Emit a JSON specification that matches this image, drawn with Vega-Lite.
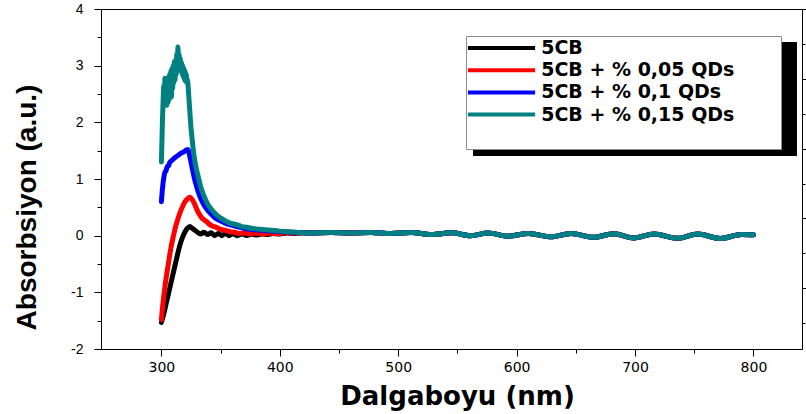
{
"$schema": "https://vega.github.io/schema/vega-lite/v6.json",
"width": 701,
"height": 340,
"autosize": {"type": "none"},
"padding": {"left": 101, "top": 9, "right": 4, "bottom": 65},
"background": "white",
"config": {
  "view": {"stroke": "#000", "strokeWidth": 1},
  "axis": {"domainColor": "#000", "tickColor": "#000", "labelColor": "#000", "titleColor": "#000", "grid": false, "tickWidth": 1, "domainWidth": 1}
},
"datasets": {
"main": [
{"wavelength":300,"absorbance":-1.53,"sample":"5CB"},
{"wavelength":302,"absorbance":-1.38,"sample":"5CB"},
{"wavelength":304,"absorbance":-1.2,"sample":"5CB"},
{"wavelength":306,"absorbance":-1.02,"sample":"5CB"},
{"wavelength":308,"absorbance":-0.84,"sample":"5CB"},
{"wavelength":310,"absorbance":-0.66,"sample":"5CB"},
{"wavelength":312,"absorbance":-0.48,"sample":"5CB"},
{"wavelength":314,"absorbance":-0.3,"sample":"5CB"},
{"wavelength":316,"absorbance":-0.14,"sample":"5CB"},
{"wavelength":318,"absorbance":-0.02,"sample":"5CB"},
{"wavelength":320,"absorbance":0.07,"sample":"5CB"},
{"wavelength":322,"absorbance":0.13,"sample":"5CB"},
{"wavelength":324,"absorbance":0.16,"sample":"5CB"},
{"wavelength":326,"absorbance":0.13,"sample":"5CB"},
{"wavelength":328,"absorbance":0.1,"sample":"5CB"},
{"wavelength":330,"absorbance":0.07,"sample":"5CB"},
{"wavelength":333,"absorbance":0.03,"sample":"5CB"},
{"wavelength":336,"absorbance":0.06,"sample":"5CB"},
{"wavelength":339,"absorbance":0.02,"sample":"5CB"},
{"wavelength":342,"absorbance":0.05,"sample":"5CB"},
{"wavelength":345,"absorbance":0.0,"sample":"5CB"},
{"wavelength":348,"absorbance":0.04,"sample":"5CB"},
{"wavelength":351,"absorbance":0.0,"sample":"5CB"},
{"wavelength":354,"absorbance":0.04,"sample":"5CB"},
{"wavelength":357,"absorbance":0.0,"sample":"5CB"},
{"wavelength":360,"absorbance":0.035,"sample":"5CB"},
{"wavelength":364,"absorbance":0.0,"sample":"5CB"},
{"wavelength":368,"absorbance":0.03,"sample":"5CB"},
{"wavelength":372,"absorbance":0.005,"sample":"5CB"},
{"wavelength":376,"absorbance":0.025,"sample":"5CB"},
{"wavelength":380,"absorbance":0.01,"sample":"5CB"},
{"wavelength":385,"absorbance":0.03,"sample":"5CB"},
{"wavelength":390,"absorbance":0.02,"sample":"5CB"},
{"wavelength":395,"absorbance":0.04,"sample":"5CB"},
{"wavelength":400,"absorbance":0.03,"sample":"5CB"},
{"wavelength":406,"absorbance":0.045,"sample":"5CB"},
{"wavelength":413,"absorbance":0.04,"sample":"5CB"},
{"wavelength":420,"absorbance":0.05,"sample":"5CB"},
{"wavelength":426,"absorbance":0.045,"sample":"5CB"},
{"wavelength":443,"absorbance":0.058,"sample":"5CB"},
{"wavelength":460,"absorbance":0.045,"sample":"5CB"},
{"wavelength":477,"absorbance":0.058,"sample":"5CB"},
{"wavelength":494,"absorbance":0.04,"sample":"5CB"},
{"wavelength":511,"absorbance":0.055,"sample":"5CB"},
{"wavelength":528,"absorbance":0.02,"sample":"5CB"},
{"wavelength":545,"absorbance":0.05,"sample":"5CB"},
{"wavelength":561,"absorbance":0.0,"sample":"5CB"},
{"wavelength":576,"absorbance":0.045,"sample":"5CB"},
{"wavelength":593,"absorbance":-0.01,"sample":"5CB"},
{"wavelength":610,"absorbance":0.04,"sample":"5CB"},
{"wavelength":629,"absorbance":-0.02,"sample":"5CB"},
{"wavelength":646,"absorbance":0.04,"sample":"5CB"},
{"wavelength":665,"absorbance":-0.03,"sample":"5CB"},
{"wavelength":682,"absorbance":0.035,"sample":"5CB"},
{"wavelength":699,"absorbance":-0.04,"sample":"5CB"},
{"wavelength":716,"absorbance":0.03,"sample":"5CB"},
{"wavelength":736,"absorbance":-0.045,"sample":"5CB"},
{"wavelength":753,"absorbance":0.03,"sample":"5CB"},
{"wavelength":772,"absorbance":-0.05,"sample":"5CB"},
{"wavelength":790,"absorbance":0.02,"sample":"5CB"},
{"wavelength":800,"absorbance":0.015,"sample":"5CB"},
{"wavelength":300,"absorbance":-1.48,"sample":"5CB + % 0,05 QDs"},
{"wavelength":301,"absorbance":-1.26,"sample":"5CB + % 0,05 QDs"},
{"wavelength":302,"absorbance":-1.07,"sample":"5CB + % 0,05 QDs"},
{"wavelength":303,"absorbance":-0.9,"sample":"5CB + % 0,05 QDs"},
{"wavelength":304,"absorbance":-0.75,"sample":"5CB + % 0,05 QDs"},
{"wavelength":306,"absorbance":-0.48,"sample":"5CB + % 0,05 QDs"},
{"wavelength":308,"absorbance":-0.22,"sample":"5CB + % 0,05 QDs"},
{"wavelength":310,"absorbance":-0.02,"sample":"5CB + % 0,05 QDs"},
{"wavelength":312,"absorbance":0.16,"sample":"5CB + % 0,05 QDs"},
{"wavelength":314,"absorbance":0.3,"sample":"5CB + % 0,05 QDs"},
{"wavelength":316,"absorbance":0.42,"sample":"5CB + % 0,05 QDs"},
{"wavelength":318,"absorbance":0.52,"sample":"5CB + % 0,05 QDs"},
{"wavelength":320,"absorbance":0.6,"sample":"5CB + % 0,05 QDs"},
{"wavelength":322,"absorbance":0.65,"sample":"5CB + % 0,05 QDs"},
{"wavelength":324,"absorbance":0.68,"sample":"5CB + % 0,05 QDs"},
{"wavelength":326,"absorbance":0.64,"sample":"5CB + % 0,05 QDs"},
{"wavelength":328,"absorbance":0.56,"sample":"5CB + % 0,05 QDs"},
{"wavelength":330,"absorbance":0.46,"sample":"5CB + % 0,05 QDs"},
{"wavelength":332,"absorbance":0.38,"sample":"5CB + % 0,05 QDs"},
{"wavelength":334,"absorbance":0.32,"sample":"5CB + % 0,05 QDs"},
{"wavelength":336,"absorbance":0.28,"sample":"5CB + % 0,05 QDs"},
{"wavelength":338,"absorbance":0.25,"sample":"5CB + % 0,05 QDs"},
{"wavelength":340,"absorbance":0.21,"sample":"5CB + % 0,05 QDs"},
{"wavelength":343,"absorbance":0.17,"sample":"5CB + % 0,05 QDs"},
{"wavelength":346,"absorbance":0.15,"sample":"5CB + % 0,05 QDs"},
{"wavelength":349,"absorbance":0.12,"sample":"5CB + % 0,05 QDs"},
{"wavelength":352,"absorbance":0.1,"sample":"5CB + % 0,05 QDs"},
{"wavelength":355,"absorbance":0.09,"sample":"5CB + % 0,05 QDs"},
{"wavelength":358,"absorbance":0.07,"sample":"5CB + % 0,05 QDs"},
{"wavelength":362,"absorbance":0.06,"sample":"5CB + % 0,05 QDs"},
{"wavelength":366,"absorbance":0.04,"sample":"5CB + % 0,05 QDs"},
{"wavelength":370,"absorbance":0.05,"sample":"5CB + % 0,05 QDs"},
{"wavelength":375,"absorbance":0.03,"sample":"5CB + % 0,05 QDs"},
{"wavelength":380,"absorbance":0.045,"sample":"5CB + % 0,05 QDs"},
{"wavelength":386,"absorbance":0.025,"sample":"5CB + % 0,05 QDs"},
{"wavelength":392,"absorbance":0.045,"sample":"5CB + % 0,05 QDs"},
{"wavelength":398,"absorbance":0.035,"sample":"5CB + % 0,05 QDs"},
{"wavelength":405,"absorbance":0.05,"sample":"5CB + % 0,05 QDs"},
{"wavelength":412,"absorbance":0.045,"sample":"5CB + % 0,05 QDs"},
{"wavelength":420,"absorbance":0.05,"sample":"5CB + % 0,05 QDs"},
{"wavelength":426,"absorbance":0.045,"sample":"5CB + % 0,05 QDs"},
{"wavelength":443,"absorbance":0.058,"sample":"5CB + % 0,05 QDs"},
{"wavelength":460,"absorbance":0.045,"sample":"5CB + % 0,05 QDs"},
{"wavelength":477,"absorbance":0.058,"sample":"5CB + % 0,05 QDs"},
{"wavelength":494,"absorbance":0.04,"sample":"5CB + % 0,05 QDs"},
{"wavelength":511,"absorbance":0.055,"sample":"5CB + % 0,05 QDs"},
{"wavelength":528,"absorbance":0.02,"sample":"5CB + % 0,05 QDs"},
{"wavelength":545,"absorbance":0.05,"sample":"5CB + % 0,05 QDs"},
{"wavelength":561,"absorbance":0.0,"sample":"5CB + % 0,05 QDs"},
{"wavelength":576,"absorbance":0.045,"sample":"5CB + % 0,05 QDs"},
{"wavelength":593,"absorbance":-0.01,"sample":"5CB + % 0,05 QDs"},
{"wavelength":610,"absorbance":0.04,"sample":"5CB + % 0,05 QDs"},
{"wavelength":629,"absorbance":-0.02,"sample":"5CB + % 0,05 QDs"},
{"wavelength":646,"absorbance":0.04,"sample":"5CB + % 0,05 QDs"},
{"wavelength":665,"absorbance":-0.03,"sample":"5CB + % 0,05 QDs"},
{"wavelength":682,"absorbance":0.035,"sample":"5CB + % 0,05 QDs"},
{"wavelength":699,"absorbance":-0.04,"sample":"5CB + % 0,05 QDs"},
{"wavelength":716,"absorbance":0.03,"sample":"5CB + % 0,05 QDs"},
{"wavelength":736,"absorbance":-0.045,"sample":"5CB + % 0,05 QDs"},
{"wavelength":753,"absorbance":0.03,"sample":"5CB + % 0,05 QDs"},
{"wavelength":772,"absorbance":-0.05,"sample":"5CB + % 0,05 QDs"},
{"wavelength":790,"absorbance":0.02,"sample":"5CB + % 0,05 QDs"},
{"wavelength":800,"absorbance":0.015,"sample":"5CB + % 0,05 QDs"},
{"wavelength":300,"absorbance":0.6,"sample":"5CB + % 0,1 QDs"},
{"wavelength":301,"absorbance":0.85,"sample":"5CB + % 0,1 QDs"},
{"wavelength":302,"absorbance":1.02,"sample":"5CB + % 0,1 QDs"},
{"wavelength":303,"absorbance":1.12,"sample":"5CB + % 0,1 QDs"},
{"wavelength":304,"absorbance":1.15,"sample":"5CB + % 0,1 QDs"},
{"wavelength":305,"absorbance":1.22,"sample":"5CB + % 0,1 QDs"},
{"wavelength":306,"absorbance":1.23,"sample":"5CB + % 0,1 QDs"},
{"wavelength":307,"absorbance":1.29,"sample":"5CB + % 0,1 QDs"},
{"wavelength":309,"absorbance":1.33,"sample":"5CB + % 0,1 QDs"},
{"wavelength":311,"absorbance":1.37,"sample":"5CB + % 0,1 QDs"},
{"wavelength":313,"absorbance":1.4,"sample":"5CB + % 0,1 QDs"},
{"wavelength":315,"absorbance":1.43,"sample":"5CB + % 0,1 QDs"},
{"wavelength":317,"absorbance":1.46,"sample":"5CB + % 0,1 QDs"},
{"wavelength":319,"absorbance":1.48,"sample":"5CB + % 0,1 QDs"},
{"wavelength":321,"absorbance":1.51,"sample":"5CB + % 0,1 QDs"},
{"wavelength":322.5,"absorbance":1.52,"sample":"5CB + % 0,1 QDs"},
{"wavelength":324,"absorbance":1.4,"sample":"5CB + % 0,1 QDs"},
{"wavelength":326,"absorbance":1.2,"sample":"5CB + % 0,1 QDs"},
{"wavelength":328,"absorbance":1.0,"sample":"5CB + % 0,1 QDs"},
{"wavelength":330,"absorbance":0.85,"sample":"5CB + % 0,1 QDs"},
{"wavelength":332,"absorbance":0.72,"sample":"5CB + % 0,1 QDs"},
{"wavelength":334,"absorbance":0.62,"sample":"5CB + % 0,1 QDs"},
{"wavelength":336,"absorbance":0.54,"sample":"5CB + % 0,1 QDs"},
{"wavelength":339,"absorbance":0.45,"sample":"5CB + % 0,1 QDs"},
{"wavelength":342,"absorbance":0.38,"sample":"5CB + % 0,1 QDs"},
{"wavelength":345,"absorbance":0.32,"sample":"5CB + % 0,1 QDs"},
{"wavelength":348,"absorbance":0.28,"sample":"5CB + % 0,1 QDs"},
{"wavelength":351,"absorbance":0.25,"sample":"5CB + % 0,1 QDs"},
{"wavelength":354,"absorbance":0.22,"sample":"5CB + % 0,1 QDs"},
{"wavelength":357,"absorbance":0.2,"sample":"5CB + % 0,1 QDs"},
{"wavelength":360,"absorbance":0.18,"sample":"5CB + % 0,1 QDs"},
{"wavelength":364,"absorbance":0.16,"sample":"5CB + % 0,1 QDs"},
{"wavelength":368,"absorbance":0.14,"sample":"5CB + % 0,1 QDs"},
{"wavelength":372,"absorbance":0.12,"sample":"5CB + % 0,1 QDs"},
{"wavelength":376,"absorbance":0.11,"sample":"5CB + % 0,1 QDs"},
{"wavelength":382,"absorbance":0.1,"sample":"5CB + % 0,1 QDs"},
{"wavelength":388,"absorbance":0.09,"sample":"5CB + % 0,1 QDs"},
{"wavelength":395,"absorbance":0.08,"sample":"5CB + % 0,1 QDs"},
{"wavelength":402,"absorbance":0.07,"sample":"5CB + % 0,1 QDs"},
{"wavelength":410,"absorbance":0.06,"sample":"5CB + % 0,1 QDs"},
{"wavelength":420,"absorbance":0.05,"sample":"5CB + % 0,1 QDs"},
{"wavelength":426,"absorbance":0.045,"sample":"5CB + % 0,1 QDs"},
{"wavelength":443,"absorbance":0.058,"sample":"5CB + % 0,1 QDs"},
{"wavelength":460,"absorbance":0.045,"sample":"5CB + % 0,1 QDs"},
{"wavelength":477,"absorbance":0.058,"sample":"5CB + % 0,1 QDs"},
{"wavelength":494,"absorbance":0.04,"sample":"5CB + % 0,1 QDs"},
{"wavelength":511,"absorbance":0.055,"sample":"5CB + % 0,1 QDs"},
{"wavelength":528,"absorbance":0.02,"sample":"5CB + % 0,1 QDs"},
{"wavelength":545,"absorbance":0.05,"sample":"5CB + % 0,1 QDs"},
{"wavelength":561,"absorbance":0.0,"sample":"5CB + % 0,1 QDs"},
{"wavelength":576,"absorbance":0.045,"sample":"5CB + % 0,1 QDs"},
{"wavelength":593,"absorbance":-0.01,"sample":"5CB + % 0,1 QDs"},
{"wavelength":610,"absorbance":0.04,"sample":"5CB + % 0,1 QDs"},
{"wavelength":629,"absorbance":-0.02,"sample":"5CB + % 0,1 QDs"},
{"wavelength":646,"absorbance":0.04,"sample":"5CB + % 0,1 QDs"},
{"wavelength":665,"absorbance":-0.03,"sample":"5CB + % 0,1 QDs"},
{"wavelength":682,"absorbance":0.035,"sample":"5CB + % 0,1 QDs"},
{"wavelength":699,"absorbance":-0.04,"sample":"5CB + % 0,1 QDs"},
{"wavelength":716,"absorbance":0.03,"sample":"5CB + % 0,1 QDs"},
{"wavelength":736,"absorbance":-0.045,"sample":"5CB + % 0,1 QDs"},
{"wavelength":753,"absorbance":0.03,"sample":"5CB + % 0,1 QDs"},
{"wavelength":772,"absorbance":-0.05,"sample":"5CB + % 0,1 QDs"},
{"wavelength":790,"absorbance":0.02,"sample":"5CB + % 0,1 QDs"},
{"wavelength":800,"absorbance":0.015,"sample":"5CB + % 0,1 QDs"},
{"wavelength":300,"absorbance":1.3,"sample":"5CB + % 0,15 QDs"},
{"wavelength":300.5,"absorbance":1.7,"sample":"5CB + % 0,15 QDs"},
{"wavelength":301,"absorbance":2.1,"sample":"5CB + % 0,15 QDs"},
{"wavelength":301.5,"absorbance":2.4,"sample":"5CB + % 0,15 QDs"},
{"wavelength":302,"absorbance":2.65,"sample":"5CB + % 0,15 QDs"},
{"wavelength":302.5,"absorbance":2.45,"sample":"5CB + % 0,15 QDs"},
{"wavelength":303,"absorbance":2.78,"sample":"5CB + % 0,15 QDs"},
{"wavelength":303.5,"absorbance":2.4,"sample":"5CB + % 0,15 QDs"},
{"wavelength":304,"absorbance":2.7,"sample":"5CB + % 0,15 QDs"},
{"wavelength":304.5,"absorbance":2.3,"sample":"5CB + % 0,15 QDs"},
{"wavelength":305,"absorbance":2.75,"sample":"5CB + % 0,15 QDs"},
{"wavelength":305.5,"absorbance":2.35,"sample":"5CB + % 0,15 QDs"},
{"wavelength":306,"absorbance":2.8,"sample":"5CB + % 0,15 QDs"},
{"wavelength":306.5,"absorbance":2.4,"sample":"5CB + % 0,15 QDs"},
{"wavelength":307,"absorbance":2.85,"sample":"5CB + % 0,15 QDs"},
{"wavelength":307.5,"absorbance":2.5,"sample":"5CB + % 0,15 QDs"},
{"wavelength":308,"absorbance":2.9,"sample":"5CB + % 0,15 QDs"},
{"wavelength":308.5,"absorbance":2.45,"sample":"5CB + % 0,15 QDs"},
{"wavelength":309,"absorbance":2.95,"sample":"5CB + % 0,15 QDs"},
{"wavelength":309.5,"absorbance":2.6,"sample":"5CB + % 0,15 QDs"},
{"wavelength":310,"absorbance":3.0,"sample":"5CB + % 0,15 QDs"},
{"wavelength":310.5,"absorbance":2.7,"sample":"5CB + % 0,15 QDs"},
{"wavelength":311,"absorbance":3.07,"sample":"5CB + % 0,15 QDs"},
{"wavelength":311.5,"absorbance":2.75,"sample":"5CB + % 0,15 QDs"},
{"wavelength":312,"absorbance":3.1,"sample":"5CB + % 0,15 QDs"},
{"wavelength":312.5,"absorbance":2.85,"sample":"5CB + % 0,15 QDs"},
{"wavelength":313,"absorbance":3.2,"sample":"5CB + % 0,15 QDs"},
{"wavelength":313.5,"absorbance":3.0,"sample":"5CB + % 0,15 QDs"},
{"wavelength":314,"absorbance":3.33,"sample":"5CB + % 0,15 QDs"},
{"wavelength":314.5,"absorbance":3.05,"sample":"5CB + % 0,15 QDs"},
{"wavelength":315,"absorbance":3.2,"sample":"5CB + % 0,15 QDs"},
{"wavelength":315.5,"absorbance":2.95,"sample":"5CB + % 0,15 QDs"},
{"wavelength":316,"absorbance":3.12,"sample":"5CB + % 0,15 QDs"},
{"wavelength":316.5,"absorbance":2.9,"sample":"5CB + % 0,15 QDs"},
{"wavelength":317,"absorbance":3.05,"sample":"5CB + % 0,15 QDs"},
{"wavelength":317.5,"absorbance":2.85,"sample":"5CB + % 0,15 QDs"},
{"wavelength":318,"absorbance":3.0,"sample":"5CB + % 0,15 QDs"},
{"wavelength":318.5,"absorbance":2.8,"sample":"5CB + % 0,15 QDs"},
{"wavelength":319,"absorbance":2.95,"sample":"5CB + % 0,15 QDs"},
{"wavelength":319.5,"absorbance":2.75,"sample":"5CB + % 0,15 QDs"},
{"wavelength":320,"absorbance":2.9,"sample":"5CB + % 0,15 QDs"},
{"wavelength":320.5,"absorbance":2.72,"sample":"5CB + % 0,15 QDs"},
{"wavelength":321,"absorbance":2.85,"sample":"5CB + % 0,15 QDs"},
{"wavelength":321.5,"absorbance":2.7,"sample":"5CB + % 0,15 QDs"},
{"wavelength":322,"absorbance":2.75,"sample":"5CB + % 0,15 QDs"},
{"wavelength":323,"absorbance":2.5,"sample":"5CB + % 0,15 QDs"},
{"wavelength":324,"absorbance":2.2,"sample":"5CB + % 0,15 QDs"},
{"wavelength":325,"absorbance":1.9,"sample":"5CB + % 0,15 QDs"},
{"wavelength":326,"absorbance":1.7,"sample":"5CB + % 0,15 QDs"},
{"wavelength":327,"absorbance":1.5,"sample":"5CB + % 0,15 QDs"},
{"wavelength":328,"absorbance":1.35,"sample":"5CB + % 0,15 QDs"},
{"wavelength":329,"absorbance":1.23,"sample":"5CB + % 0,15 QDs"},
{"wavelength":331,"absorbance":1.05,"sample":"5CB + % 0,15 QDs"},
{"wavelength":333,"absorbance":0.88,"sample":"5CB + % 0,15 QDs"},
{"wavelength":335,"absorbance":0.75,"sample":"5CB + % 0,15 QDs"},
{"wavelength":337,"absorbance":0.65,"sample":"5CB + % 0,15 QDs"},
{"wavelength":339,"absorbance":0.56,"sample":"5CB + % 0,15 QDs"},
{"wavelength":342,"absorbance":0.47,"sample":"5CB + % 0,15 QDs"},
{"wavelength":345,"absorbance":0.4,"sample":"5CB + % 0,15 QDs"},
{"wavelength":348,"absorbance":0.34,"sample":"5CB + % 0,15 QDs"},
{"wavelength":351,"absorbance":0.3,"sample":"5CB + % 0,15 QDs"},
{"wavelength":354,"absorbance":0.26,"sample":"5CB + % 0,15 QDs"},
{"wavelength":357,"absorbance":0.23,"sample":"5CB + % 0,15 QDs"},
{"wavelength":360,"absorbance":0.21,"sample":"5CB + % 0,15 QDs"},
{"wavelength":364,"absorbance":0.19,"sample":"5CB + % 0,15 QDs"},
{"wavelength":368,"absorbance":0.16,"sample":"5CB + % 0,15 QDs"},
{"wavelength":372,"absorbance":0.15,"sample":"5CB + % 0,15 QDs"},
{"wavelength":376,"absorbance":0.13,"sample":"5CB + % 0,15 QDs"},
{"wavelength":380,"absorbance":0.12,"sample":"5CB + % 0,15 QDs"},
{"wavelength":385,"absorbance":0.11,"sample":"5CB + % 0,15 QDs"},
{"wavelength":390,"absorbance":0.1,"sample":"5CB + % 0,15 QDs"},
{"wavelength":395,"absorbance":0.09,"sample":"5CB + % 0,15 QDs"},
{"wavelength":400,"absorbance":0.08,"sample":"5CB + % 0,15 QDs"},
{"wavelength":406,"absorbance":0.07,"sample":"5CB + % 0,15 QDs"},
{"wavelength":413,"absorbance":0.06,"sample":"5CB + % 0,15 QDs"},
{"wavelength":420,"absorbance":0.05,"sample":"5CB + % 0,15 QDs"},
{"wavelength":426,"absorbance":0.045,"sample":"5CB + % 0,15 QDs"},
{"wavelength":443,"absorbance":0.058,"sample":"5CB + % 0,15 QDs"},
{"wavelength":460,"absorbance":0.045,"sample":"5CB + % 0,15 QDs"},
{"wavelength":477,"absorbance":0.058,"sample":"5CB + % 0,15 QDs"},
{"wavelength":494,"absorbance":0.04,"sample":"5CB + % 0,15 QDs"},
{"wavelength":511,"absorbance":0.055,"sample":"5CB + % 0,15 QDs"},
{"wavelength":528,"absorbance":0.02,"sample":"5CB + % 0,15 QDs"},
{"wavelength":545,"absorbance":0.05,"sample":"5CB + % 0,15 QDs"},
{"wavelength":561,"absorbance":0.0,"sample":"5CB + % 0,15 QDs"},
{"wavelength":576,"absorbance":0.045,"sample":"5CB + % 0,15 QDs"},
{"wavelength":593,"absorbance":-0.01,"sample":"5CB + % 0,15 QDs"},
{"wavelength":610,"absorbance":0.04,"sample":"5CB + % 0,15 QDs"},
{"wavelength":629,"absorbance":-0.02,"sample":"5CB + % 0,15 QDs"},
{"wavelength":646,"absorbance":0.04,"sample":"5CB + % 0,15 QDs"},
{"wavelength":665,"absorbance":-0.03,"sample":"5CB + % 0,15 QDs"},
{"wavelength":682,"absorbance":0.035,"sample":"5CB + % 0,15 QDs"},
{"wavelength":699,"absorbance":-0.04,"sample":"5CB + % 0,15 QDs"},
{"wavelength":716,"absorbance":0.03,"sample":"5CB + % 0,15 QDs"},
{"wavelength":736,"absorbance":-0.045,"sample":"5CB + % 0,15 QDs"},
{"wavelength":753,"absorbance":0.03,"sample":"5CB + % 0,15 QDs"},
{"wavelength":772,"absorbance":-0.05,"sample":"5CB + % 0,15 QDs"},
{"wavelength":790,"absorbance":0.02,"sample":"5CB + % 0,15 QDs"},
{"wavelength":800,"absorbance":0.015,"sample":"5CB + % 0,15 QDs"}
]
},
"data": {"name": "main"},
"layer": [
  {
    "mark": {"type": "line", "strokeWidth": 5, "interpolate": "monotone", "strokeCap": "round", "strokeJoin": "round", "clip": true},
    "encoding": {
      "x": {
        "field": "wavelength", "type": "quantitative",
        "scale": {"domain": [249, 841], "nice": false, "zero": false},
        "axis": {
          "title": "Dalgaboyu (nm)",
          "values": [300, 350, 400, 450, 500, 550, 600, 650, 700, 750, 800],
          "labelExpr": "datum.value % 100 === 0 ? toString(datum.value) : ''",
          "tickSize": {"condition": {"test": "datum.value % 100 !== 0", "value": 4}, "value": 7},
          "labelFont": "DejaVu Sans", "labelFontSize": 14, "labelPadding": 4,
          "labelFlush": false, "labelOverlap": false,
          "titleFont": "DejaVu Sans", "titleFontSize": 26, "titleFontWeight": "bold",
          "titleX": 356, "titleY": 55, "titleBaseline": "alphabetic", "titleAlign": "center"
        }
      },
      "y": {
        "field": "absorbance", "type": "quantitative",
        "scale": {"domain": [-2, 4], "nice": false, "zero": false},
        "axis": {
          "title": "Absorbsiyon (a.u.)",
          "values": [-2, -1.5, -1, -0.5, 0, 0.5, 1, 1.5, 2, 2.5, 3, 3.5, 4],
          "labelExpr": "datum.value % 1 === 0 ? toString(datum.value) : ''",
          "tickSize": {"condition": {"test": "datum.value % 1 !== 0", "value": 4}, "value": 7},
          "labelFont": "Liberation Sans", "labelFontSize": 14, "labelPadding": 11,
          "labelFlush": false, "labelOverlap": false,
          "titleFont": "Liberation Sans", "titleFontSize": 28, "titleFontWeight": "bold",
          "titleAngle": 270, "titleX": -66, "titleY": 198, "titleBaseline": "alphabetic", "titleAlign": "center"
        }
      },
      "color": {
        "field": "sample", "type": "nominal",
        "scale": {
          "domain": ["5CB", "5CB + % 0,05 QDs", "5CB + % 0,1 QDs", "5CB + % 0,15 QDs", " "],
          "range": ["#000000", "#ff0000", "#0000ff", "#008080", "#ffffff"]
        },
        "legend": {
          "orient": "none", "legendX": 365, "legendY": 27, "title": null, "zindex": 2,
          "symbolType": "M-4.2,0H4.2", "symbolSize": 256, "symbolStrokeWidth": 4,
          "symbolOffset": 23.5, "labelOffset": 29.7,
          "labelFont": "DejaVu Sans", "labelFontSize": 19, "labelFontWeight": "bold", "labelColor": "#000",
          "labelLimit": 0,
          "labelExpr": "datum.label + '\u2800\u2800\u2800'",
          "padding": 2, "rowPadding": 2.2,
          "fillColor": "#ffffff", "strokeColor": "#8c8c8c"
        }
      }
    }
  },
  {
    "mark": {"type": "line", "strokeWidth": 1, "opacity": 0, "clip": true},
    "encoding": {
      "x": {"field": "wavelength", "type": "quantitative"},
      "y": {
        "field": "absorbance", "type": "quantitative",
        "scale": {"domain": [0.13, 5], "nice": false, "zero": false},
        "axis": {
          "orient": "right", "title": null, "labels": false, "domain": false,
          "values": [0.5, 1, 1.5, 2, 2.5, 3, 3.5, 4, 4.5, 5],
          "tickSize": {"condition": {"test": "datum.value % 1 !== 0", "value": 3}, "value": 6}
        }
      },
      "strokeDash": {
        "field": "sample", "type": "nominal",
        "scale": {
          "domain": ["5CB", "5CB + % 0,05 QDs", "5CB + % 0,1 QDs", "5CB + % 0,15 QDs", "  "],
          "range": [[1, 0], [1, 0], [1, 0], [1, 0], [1, 0]]
        },
        "legend": {
          "orient": "none", "legendX": 372, "legendY": 33, "title": null, "zindex": 1,
          "symbolType": "M-4.2,0H34.6", "symbolSize": 256, "symbolStrokeWidth": 4,
          "symbolOffset": 23.5, "labelOffset": 29.7,
          "labelFont": "DejaVu Sans", "labelFontSize": 19, "labelFontWeight": "bold", "labelColor": "#000",
          "labelLimit": 0,
          "labelExpr": "''",
          "padding": 2, "rowPadding": 2.2,
          "fillColor": "#000000", "strokeColor": "#000000",
          "symbolStrokeColor": "#000000"
        }
      }
    }
  }
],
"resolve": {"scale": {"y": "independent"}}
}
